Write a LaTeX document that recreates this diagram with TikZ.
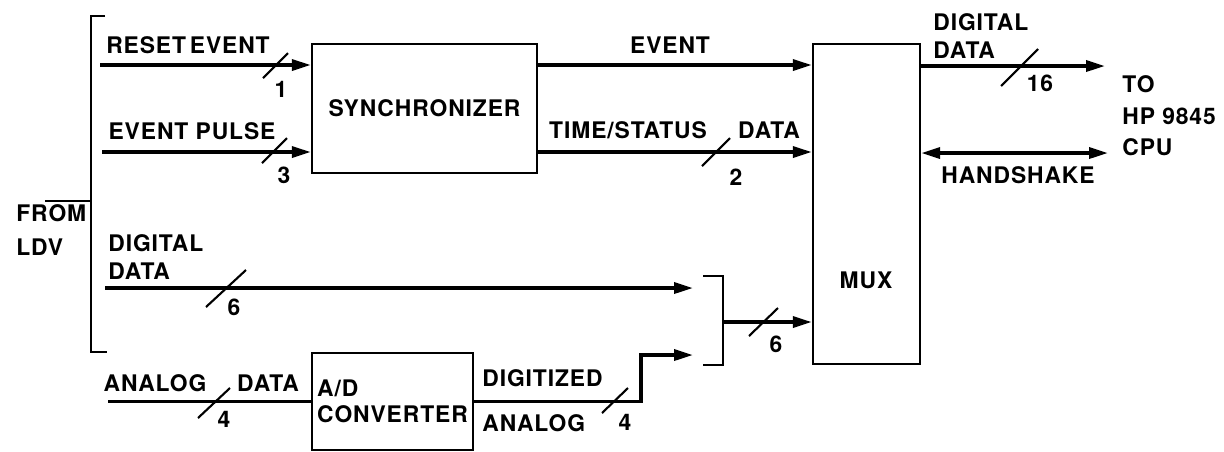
\documentclass[tikz,border=0pt]{standalone}
\usepackage{fontspec}
\setmainfont{TeX Gyre Heros}[LetterSpace=4]
\usetikzlibrary{arrows.meta, positioning, calc}

\begin{document}
\begin{tikzpicture}[x=0.02cm, y=-0.02cm,
    every node/.style={font=\bfseries\fontsize{13}{16}\selectfont, inner sep=0pt},
    blk/.style={rectangle, draw, line width=1.4pt},
    sig/.style={line width=2pt, -{Triangle[length=3.8mm, width=2.2mm]}},
    wire/.style={line width=2pt},
    brk/.style={line width=1.4pt},
    tick/.style={line width=1.2pt}
]
    \useasboundingbox (0,0) rectangle (1224,451);

    % blocks
    \node[blk, minimum width=4.5cm, minimum height=2.58cm] (sync) at (424.5,108.5) {SYNCHRONIZER};
    \node[blk, minimum width=2.14cm, minimum height=6.4cm] (mux) at (866.5,204) {};
    \node (muxlbl) at (866,280) {MUX};
    \node[blk, minimum width=3.22cm, minimum height=1.94cm, align=left] (adc) at (392.5,401.5)
        {A/D\\[-1.3pt]CONVERTER};

    % free ends
    \coordinate (rst)   at (100,65);
    \coordinate (pls)   at (102,152);
    \coordinate (ddin)  at (105,288);
    \coordinate (ddend) at (693,288);
    \coordinate (anin)  at (108,401.5);
    \coordinate (jog)   at (641,355);
    \coordinate (dgend) at (693,355);
    \coordinate (mrg)   at (723,322);
    \coordinate (cpu)   at (1105,66);
    \coordinate (hsend) at (1108,153);

    % inputs from LDV
    \draw[brk] (105,16) -- (91,16) -- (91,352) -- (107,352);
    \draw[brk] (45,201) -- (91,201);
    \node[anchor=west, align=left] (lldv) at (16,230) {FROM\\[3.7pt]LDV};

    \draw[sig] (rst) -- (rst -| sync.west);
    \node (lrst) at (188,45) {RESET\,EVENT};
    \draw[tick] (263,78) -- (288,53);
    \node (n1) at (281,89) {1};

    \draw[sig] (pls) -- (pls -| sync.west);
    \node (lpls) at (192,131) {EVENT PULSE};
    \draw[tick] (262,163) -- (287,138);
    \node (n3) at (284,175) {3};

    \draw[sig] (ddin) -- (ddend);
    \node[anchor=west, align=left] (ldin) at (108,257) {DIGITAL\\DATA};
    \draw[tick] (206,307) -- (246,270);
    \node (n6a) at (234,307) {6};

    \draw[wire] (anin) -- (anin -| adc.west);
    \node (lana) at (155,383) {ANALOG};
    \node (ldata2) at (268,383) {DATA};
    \draw[tick] (198,418) -- (230,388);
    \node (n4a) at (224,419) {4};

    % synchronizer to mux
    \draw[sig] (sync.east |- rst) -- (mux.west |- rst);
    \node (levt) at (670,45) {EVENT};
    \draw[sig] (sync.east |- pls) -- (mux.west |- pls);
    \node (ltime) at (628,130) {TIME/STATUS};
    \node (ldata1) at (769,130) {DATA};
    \draw[tick] (702,166) -- (730,138);
    \node (n2) at (736,177) {2};

    % converter output and merge
    \draw[sig] (adc.east) -| (jog) -- (dgend);
    \node[anchor=west] (ldig) at (482,378) {DIGITIZED};
    \node[anchor=west] (lanl) at (482,423) {ANALOG};
    \draw[tick] (602,413) -- (628,388);
    \node (n4b) at (625,422) {4};

    \draw[brk] (703,276) -- (723,276) -- (723,365) -- (703,365);
    \draw[sig] (mrg) -- (mrg -| mux.west);
    \draw[tick] (749,336) -- (778,308);
    \node (n6b) at (776,344) {6};

    % to the CPU
    \draw[sig] (mux.east |- cpu) -- (cpu);
    \node[anchor=west, align=left] (ldout) at (933,36) {DIGITAL\\DATA};
    \draw[tick] (1001,86) -- (1038,49);
    \node (n16) at (1040,83) {16};

    \draw[wire, {Triangle[length=3.8mm, width=2.2mm]}-{Triangle[length=3.8mm, width=2.2mm]}]
        (mux.east |- hsend) -- (hsend);
    \node (lhs) at (1018,175) {HANDSHAKE};
    \node[anchor=west, align=left] (lcpu) at (1122,116) {TO\\[2pt]HP 9845\\[2pt]CPU};
\end{tikzpicture}
\end{document}
